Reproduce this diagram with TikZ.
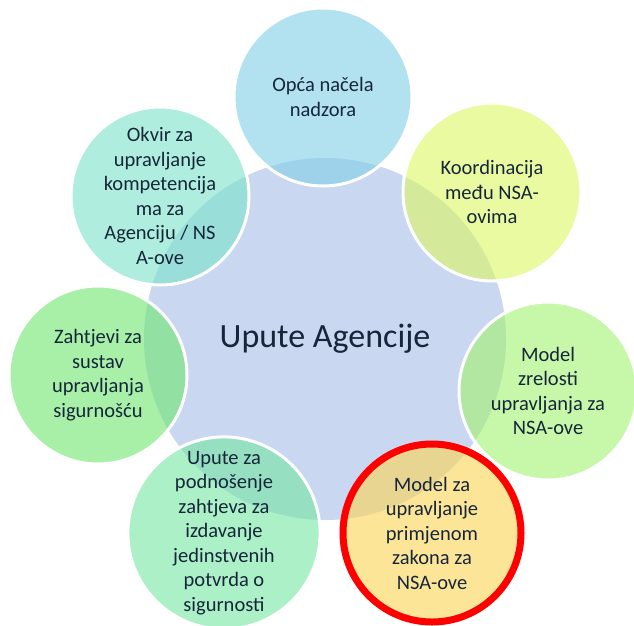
\documentclass[tikz,border=0pt]{standalone}
\usepackage{fontspec}
\setmainfont{Carlito}
\usepackage{tikz}
\definecolor{hubblue}{RGB}{201,215,240}
\definecolor{txtnavy}{RGB}{22,38,58}
\definecolor{cblue}{RGB}{128,208,230}
\definecolor{cyellow}{RGB}{220,247,97}
\definecolor{clime}{RGB}{163,242,110}
\definecolor{cgold}{RGB}{252,212,82}
\definecolor{cmint}{RGB}{117,230,163}
\definecolor{cgreen}{RGB}{110,230,110}
\definecolor{cteal}{RGB}{123,227,203}

\begin{document}
\begin{tikzpicture}[x=1pt,y=-1pt,
  hub/.style={circle,fill=hubblue,minimum size=362pt,inner sep=0pt,
    text=txtnavy,font=\fontsize{34}{40}\selectfont},
  sat/.style={circle,draw=white,line width=3pt,minimum size=178pt,inner sep=0pt,
    fill opacity=0.6,text opacity=1,text=txtnavy,align=center,
    font=\fontsize{20.5}{24.5}\selectfont},
  marked/.style={draw=red,line width=7pt}]
\useasboundingbox (0,0) rectangle (634,625);
\fill[white] (0,0) rectangle (634,625);
% centre
\node[hub] (agencija) at (325,339) {Upute Agencije};
% satellites
\node[sat,fill=cblue] (nacela) at (323,97) {Opća načela\\nadzora};
\node[sat,fill=cyellow] (koord) at (492,192) {Koordinacija\\među NSA-\\ovima};
\node[sat,fill=clime] (zrelost) at (548,391) {Model\\zrelosti\\upravljanja za\\NSA-ove};
\node[sat,fill=cgold,marked] (primjena) at (432,533) {Model za\\upravljanje\\primjenom\\zakona za\\NSA-ove};
\node[sat,fill=cmint] (potvrde) at (224,533) {Upute za\\podnošenje\\zahtjeva za\\izdavanje\\jedinstvenih\\potvrda o\\sigurnosti};
\node[sat,fill=cgreen] (sustav) at (98,375) {Zahtjevi za\\sustav\\upravljanja\\sigurnošću};
\node[sat,fill=cteal] (okvir) at (160,196) {Okvir za\\upravljanje\\kompetencija\\ma za\\Agenciju / NS\\A-ove};
\end{tikzpicture}
\end{document}
